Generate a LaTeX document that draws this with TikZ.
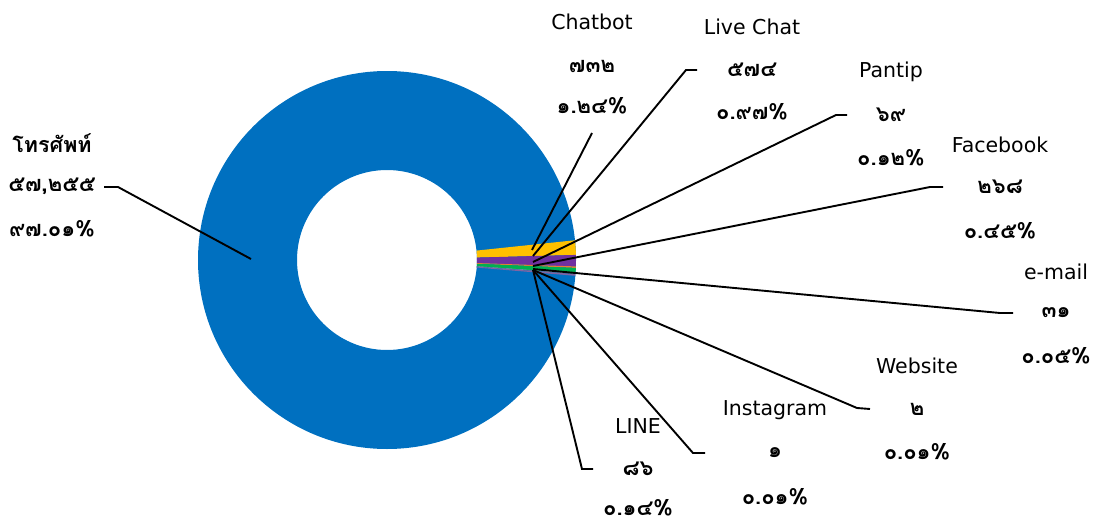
\documentclass[tikz,border=0pt]{standalone}
\usepackage{fontspec}
\setmainfont{DejaVu Sans}
\newfontfamily\thai[Script=Thai]{Loma}
\definecolor{cPhone}{HTML}{0070C0}
\definecolor{cChatbot}{HTML}{FFC000}
\definecolor{cLive}{HTML}{7030A0}
\definecolor{cPantip}{HTML}{ED7D31}
\definecolor{cFacebook}{HTML}{00B050}
\definecolor{cMail}{HTML}{A5A5A5}
\definecolor{cWeb}{HTML}{4472C4}
\definecolor{cInsta}{HTML}{255E91}
\definecolor{cLine}{HTML}{8064A2}
\tikzset{
  nm/.style={inner sep=0pt, font=\fontsize{20.5}{24}\selectfont},
  val/.style={inner sep=0pt, font=\thai\bfseries\fontsize{22}{26}\selectfont},
  leader/.style={draw=black, line width=1.9pt},
}
% wedge of the doughnut between two angles (degrees, image orientation)
\newcommand\ringslice[3]{%
  \fill[#1] (ctr) ++(#2:189) arc[start angle=#2, end angle=#3, radius=189]
    -- ($(ctr)+(#3:90)$) arc[start angle=#3, end angle=#2, radius=90] -- cycle;}
\usetikzlibrary{calc}
\begin{document}
\begin{tikzpicture}[x=1pt,y=-1pt]
\useasboundingbox (0,0) rectangle (1100,522);
\coordinate (ctr) at (387,260);
% main ring
\fill[cPhone, even odd rule] (ctr) circle[radius=189] (ctr) circle[radius=90];
% small slices, clockwise from about 6 degrees above the horizontal
\ringslice{cChatbot}{-6.0}{-1.54}
\ringslice{cLive}{-1.54}{1.95}
\ringslice{cPantip}{1.95}{2.4}
\ringslice{cFacebook}{2.4}{4.0}
\ringslice{cMail}{4.0}{4.2}
\ringslice{cWeb}{4.2}{4.25}
\ringslice{cInsta}{4.25}{4.3}
\ringslice{cLine}{4.3}{4.8}

% labels
\node[nm, font=\thai\bfseries\fontsize{21.5}{26}\selectfont] (phN) at (52,143) {โทรศัพท์};
\node[val] (phV) at (52,186) {๕๗,๒๕๕};
\node[val] (phP) at (52,229) {๙๗.๐๑\%};

\node[nm] (cbN) at (592,22) {Chatbot};
\node[val] (cbV) at (592,66) {๗๓๒};
\node[val] (cbP) at (592,106) {๑.๒๔\%};

\node[nm] (lcN) at (752,27) {Live Chat};
\node[val] (lcV) at (752,70) {๕๗๔};
\node[val] (lcP) at (752,112) {๐.๙๗\%};

\node[nm] (ptN) at (891,72) {Pantip};
\node[val] (ptV) at (891,115) {๖๙};
\node[val] (ptP) at (891,158) {๐.๑๒\%};

\node[nm] (fbN) at (1000,145) {Facebook};
\node[val] (fbV) at (1000,187) {๒๖๘};
\node[val] (fbP) at (1000,231) {๐.๔๕\%};

\node[nm] (emN) at (1056,272) {e-mail};
\node[val] (emV) at (1056,313) {๓๑};
\node[val] (emP) at (1056,356) {๐.๐๕\%};

\node[nm] (wsN) at (917,366) {Website};
\node[val] (wsV) at (917,409) {๒};
\node[val] (wsP) at (917,452) {๐.๐๑\%};

\node[nm] (igN) at (775,410) {Instagram};
\node[val] (igV) at (775,453) {๑};
\node[val] (igP) at (775,497) {๐.๐๑\%};

\node[nm] (lnN) at (638,426) {LINE};
\node[val] (lnV) at (638,469) {๘๖};
\node[val] (lnP) at (638,508) {๐.๑๔\%};

% leader line end points
\coordinate (phA) at (251,259);
\coordinate (phE) at (118,187);
\coordinate (phT) at (104,187);
\coordinate (cbA) at (532,250);
\coordinate (cbT) at (592,133);
\coordinate (lcA) at (533,256);
\coordinate (lcE) at (686,70);
\coordinate (lcT) at (697,70);
\coordinate (ptA) at (533,262);
\coordinate (ptE) at (836,115);
\coordinate (ptT) at (847,115);
\coordinate (fbA) at (533,266);
\coordinate (fbE) at (930,187);
\coordinate (fbT) at (943,187);
\coordinate (emA) at (533,269);
\coordinate (emE) at (1000,313);
\coordinate (emT) at (1013,313);
\coordinate (wsA) at (533,270);
\coordinate (wsE) at (857,408);
\coordinate (wsT) at (870,409);
\coordinate (igA) at (533,270);
\coordinate (igE) at (693,453);
\coordinate (igT) at (705,453);
\coordinate (lnA) at (533,270);
\coordinate (lnE) at (582,469);
\coordinate (lnT) at (593,469);

\draw[leader] (phA) -- (phE) -- (phT);
\draw[leader] (cbA) -- (cbT);
\draw[leader] (lcA) -- (lcE) -- (lcT);
\draw[leader] (ptA) -- (ptE) -- (ptT);
\draw[leader] (fbA) -- (fbE) -- (fbT);
\draw[leader] (emA) -- (emE) -- (emT);
\draw[leader] (wsA) -- (wsE) -- (wsT);
\draw[leader] (igA) -- (igE) -- (igT);
\draw[leader] (lnA) -- (lnE) -- (lnT);
\end{tikzpicture}
\end{document}
